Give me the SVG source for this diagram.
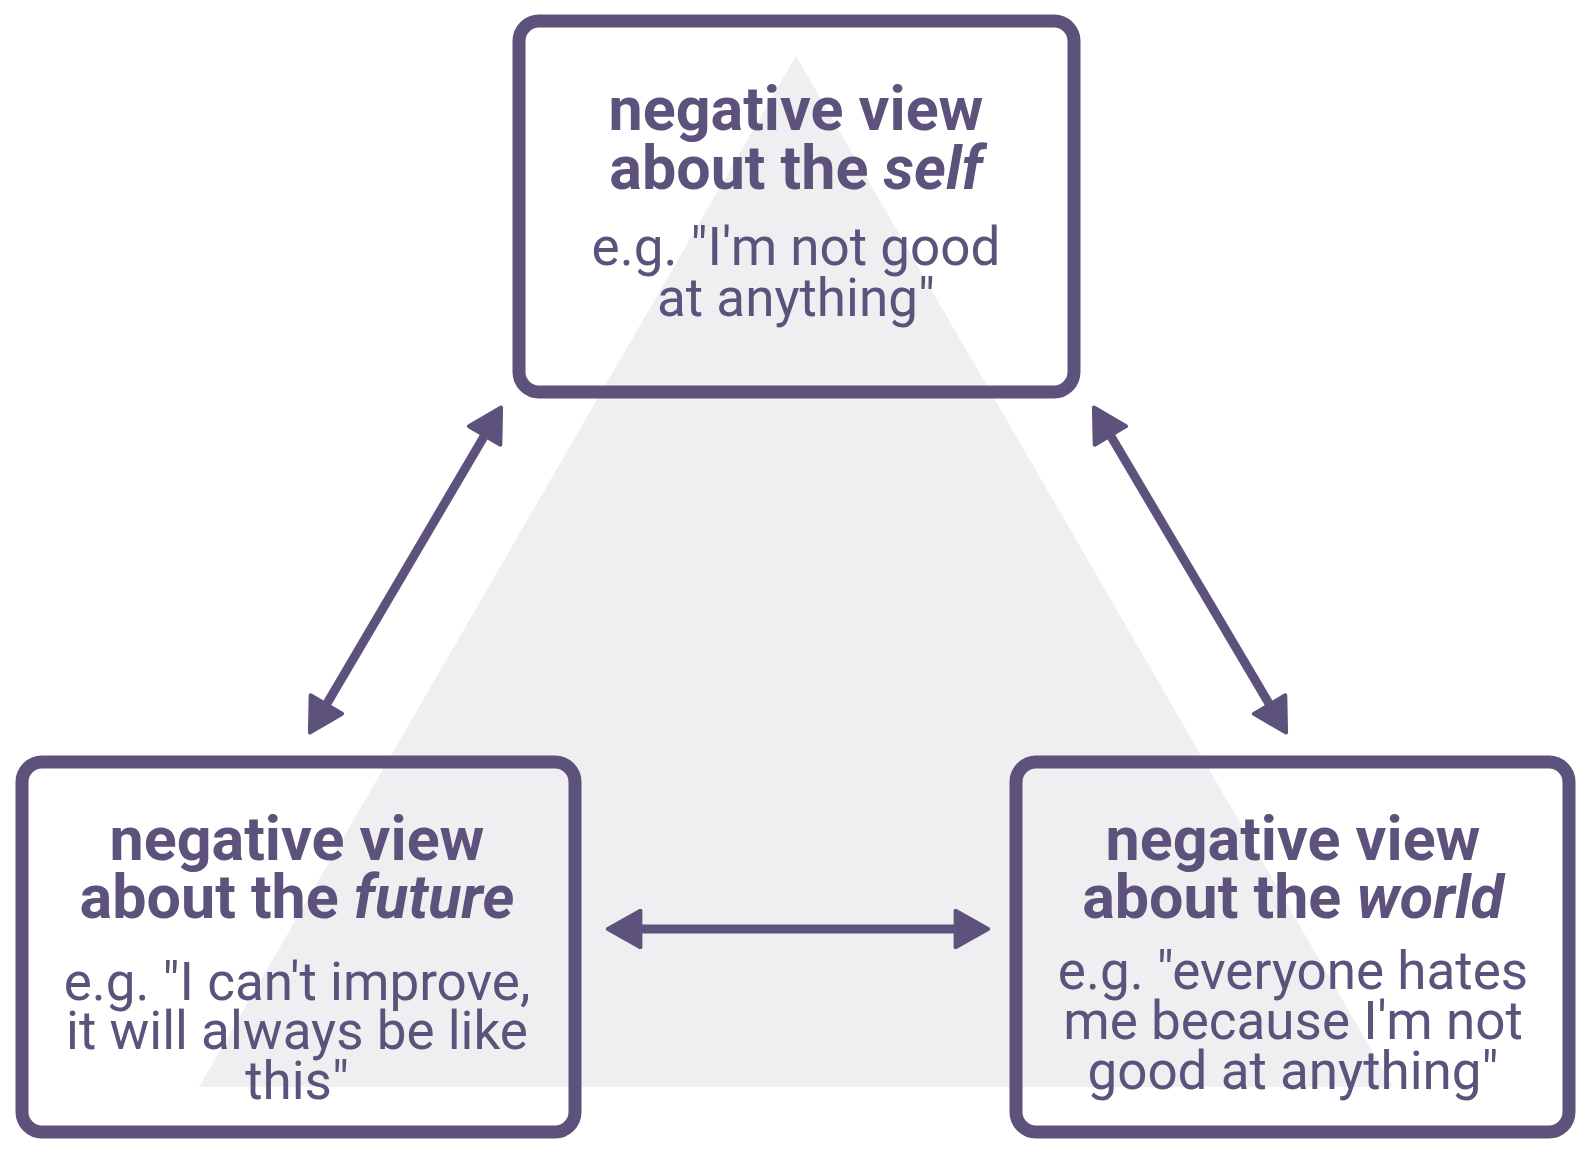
<svg xmlns="http://www.w3.org/2000/svg" width="1596" height="1160" viewBox="0 0 1596 1160">
<style>
.box{fill:#fff;fill-opacity:0;stroke:#5d527b;stroke-width:13}
.t{font-family:Roboto,"Liberation Sans",sans-serif;fill:#5d527b;text-anchor:middle}
.h{font-size:61px;font-weight:bold}
.s{font-size:53px}
.c{stroke:#5d527b;stroke-width:9;fill:none;marker-start:url(#a);marker-end:url(#a)}
</style>
<defs>
<marker id="a" viewBox="0 0 10 10" refX="8" refY="5" markerWidth="4.5" markerHeight="4.5" orient="auto-start-reverse">
<path d="M1,0.5 L9,5 L1,9.5 Z" fill="#5d527b" stroke="#5d527b" stroke-width="1" stroke-linejoin="round"/>
</marker>
</defs>
<rect width="1596" height="1160" fill="#fff"/>
<polygon points="796,56 199,1087 1393,1087" fill="#efeff1"/>
<g id="self">
<rect class="box" x="519" y="21" width="555" height="371" rx="20"/>
<text class="t h" x="796" y="130">negative view</text>
<text class="t h" x="796" y="189">about the <tspan font-style="italic">self</tspan></text>
<text class="t s" x="796" y="265">e.g. "I'm not good</text>
<text class="t s" x="796" y="316">at anything"</text>
</g>
<g id="future">
<rect class="box" x="22" y="762" width="553" height="370" rx="20"/>
<text class="t h" x="297" y="860">negative view</text>
<text class="t h" x="297" y="918">about the <tspan font-style="italic">future</tspan></text>
<text class="t s" x="297" y="1000">e.g. "I can't improve,</text>
<text class="t s" x="297" y="1049">it will always be like</text>
<text class="t s" x="297" y="1099">this"</text>
</g>
<g id="world">
<rect class="box" x="1016" y="762" width="553" height="370" rx="20"/>
<text class="t h" x="1293" y="860">negative view</text>
<text class="t h" x="1293" y="918">about the <tspan font-style="italic">world</tspan></text>
<text class="t s" x="1293" y="989">e.g. "everyone hates</text>
<text class="t s" x="1293" y="1039">me because I'm not</text>
<text class="t s" x="1293" y="1089">good at anything"</text>
</g>
<g id="connectors">
<line class="c" x1="612" y1="929" x2="984" y2="929"/>
<line class="c" x1="312" y1="729" x2="499" y2="411"/>
<line class="c" x1="1096" y1="411" x2="1284" y2="729"/>
</g>
</svg>
